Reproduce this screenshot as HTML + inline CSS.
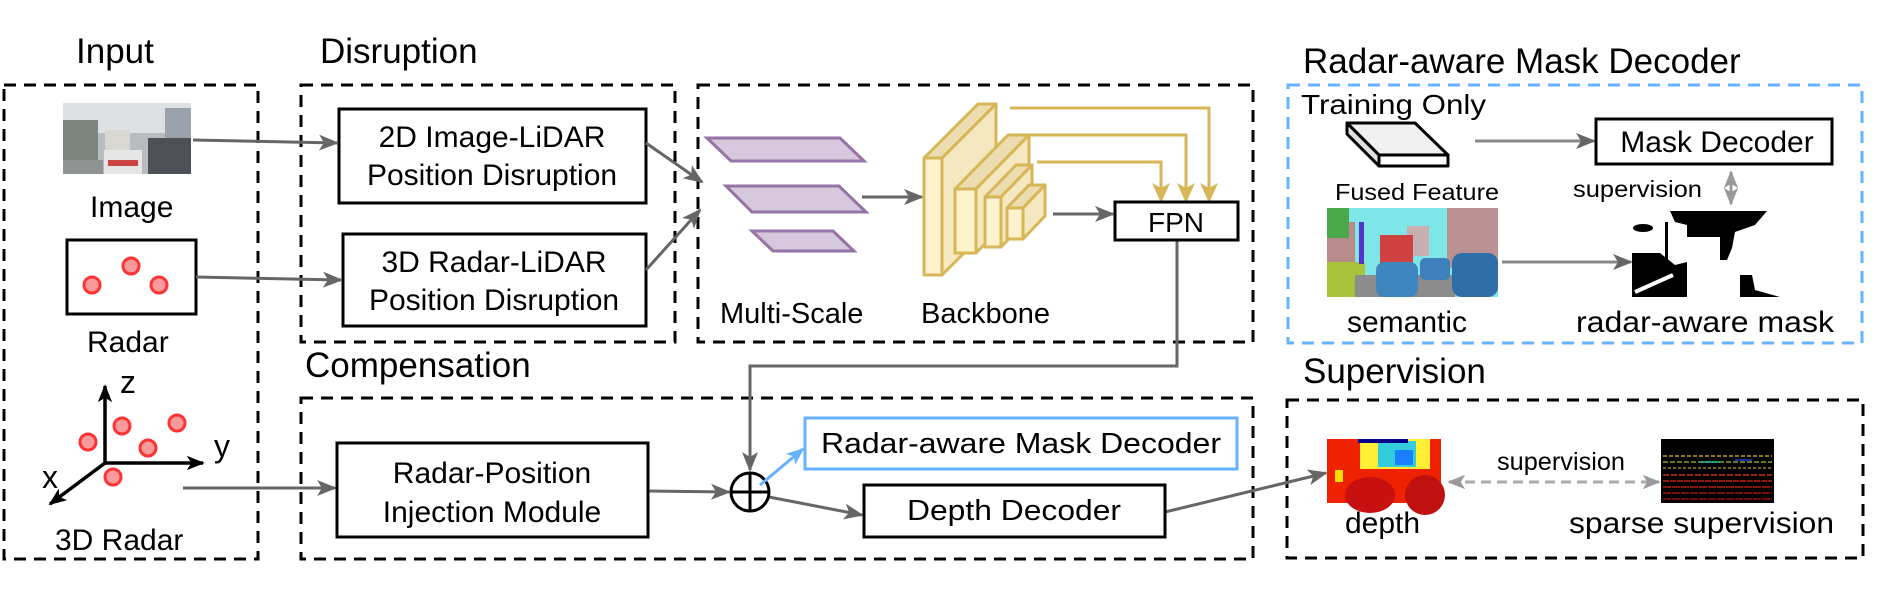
<!DOCTYPE html>
<html><head><meta charset="utf-8"><style>
html,body{margin:0;padding:0;background:#fff}
svg{display:block}
text{font-family:"Liberation Sans",Arial,sans-serif;fill:#000}
</style></head><body>
<svg width="1883" height="602" viewBox="0 0 1883 602" xmlns="http://www.w3.org/2000/svg">
<defs>
<marker id="agr" viewBox="0 0 20 20" refX="18" refY="10" markerWidth="20" markerHeight="20" orient="auto-start-reverse" markerUnits="userSpaceOnUse"><path d="M0,2 L20,10 L0,18 L5,10 Z" fill="#666"/></marker>
<marker id="agl" viewBox="0 0 20 20" refX="18" refY="10" markerWidth="18" markerHeight="18" orient="auto-start-reverse" markerUnits="userSpaceOnUse"><path d="M0,2 L20,10 L0,18 L5,10 Z" fill="#999"/></marker>
<marker id="ab" viewBox="0 0 20 20" refX="18" refY="10" markerWidth="18" markerHeight="18" orient="auto" markerUnits="userSpaceOnUse"><path d="M0,2 L20,10 L0,18 L5,10 Z" fill="#66b2ff"/></marker>
<marker id="ay" viewBox="0 0 20 20" refX="18" refY="10" markerWidth="20" markerHeight="20" orient="auto" markerUnits="userSpaceOnUse"><path d="M0,1 L20,10 L0,19 L5,10 Z" fill="#d6b656"/></marker>
<marker id="ak" viewBox="0 0 20 20" refX="18" refY="10" markerWidth="18" markerHeight="18" orient="auto" markerUnits="userSpaceOnUse"><path d="M0,2 L20,10 L0,18 L5,10 Z" fill="#000"/></marker>
</defs>

<text x="76" y="63" font-size="35">Input</text>
<text x="320" y="63" font-size="35">Disruption</text>
<text x="305" y="377" font-size="35">Compensation</text>
<text x="1303" y="73" font-size="35">Radar-aware Mask Decoder</text>
<text x="1303" y="383" font-size="35">Supervision</text>

<g fill="none" stroke="#000" stroke-width="3" stroke-dasharray="12,8">
<rect x="4" y="85" width="254" height="474"/>
<rect x="301" y="85" width="374" height="257"/>
<rect x="698" y="85" width="555" height="257"/>
<rect x="301" y="398" width="952" height="161"/>
<rect x="1287" y="400" width="576" height="158"/>
</g>
<rect x="1288" y="85" width="574" height="258" fill="none" stroke="#66b2ff" stroke-width="3" stroke-dasharray="12,8"/>

<g>
<rect x="63" y="103" width="128" height="71" fill="#b9bcbf"/>
<rect x="63" y="103" width="128" height="30" fill="#dde1e4"/>
<rect x="63" y="120" width="35" height="54" fill="#7d8580"/>
<rect x="165" y="108" width="26" height="40" fill="#9aa3ab"/>
<rect x="105" y="130" width="25" height="25" fill="#d9d7d2"/>
<rect x="148" y="138" width="43" height="36" fill="#4d5157"/>
<rect x="104" y="150" width="38" height="24" fill="#e6e6e6"/>
<rect x="108" y="160" width="30" height="6" fill="#c44"/>
<rect x="63" y="160" width="40" height="14" fill="#8f9492"/>
</g>
<text x="90" y="217" font-size="30">Image</text>

<rect x="67" y="240" width="129" height="74" fill="#fff" stroke="#000" stroke-width="3"/>
<g fill="#f89a9a" stroke="#ff3333" stroke-width="3">
<circle cx="92" cy="285" r="8"/><circle cx="131" cy="266" r="8"/><circle cx="159" cy="285" r="8"/>
</g>
<text x="87" y="352" font-size="30">Radar</text>

<g stroke="#000" stroke-width="3.5" fill="none">
<line x1="105" y1="464" x2="105" y2="386" marker-end="url(#ak)"/>
<line x1="104" y1="463" x2="203" y2="463" marker-end="url(#ak)"/>
<line x1="105" y1="463" x2="50" y2="504" marker-end="url(#ak)"/>
</g>
<text x="120" y="393" font-size="32">z</text>
<text x="214" y="457" font-size="32">y</text>
<text x="42" y="488" font-size="32">x</text>
<g fill="#f89a9a" stroke="#ff3333" stroke-width="3">
<circle cx="88" cy="442" r="8"/><circle cx="122" cy="426" r="8"/><circle cx="177" cy="423" r="8"/><circle cx="148" cy="448" r="8"/><circle cx="113" cy="477" r="8"/>
</g>
<text x="55" y="550" font-size="30">3D Radar</text>

<rect x="339" y="109" width="307" height="94" fill="#fff" stroke="#000" stroke-width="3"/>
<text x="492" y="147" font-size="30" text-anchor="middle">2D Image-LiDAR</text>
<text x="492" y="185" font-size="30" text-anchor="middle">Position Disruption</text>
<rect x="343" y="234" width="303" height="92" fill="#fff" stroke="#000" stroke-width="3"/>
<text x="494" y="272" font-size="30" text-anchor="middle">3D Radar-LiDAR</text>
<text x="494" y="310" font-size="30" text-anchor="middle">Position Disruption</text>

<g stroke="#666" stroke-width="3" fill="none">
<line x1="193" y1="140" x2="337" y2="143" marker-end="url(#agr)"/>
<line x1="196" y1="277" x2="341" y2="280" marker-end="url(#agr)"/>
<line x1="646" y1="143" x2="702" y2="182" marker-end="url(#agr)"/>
<line x1="646" y1="270" x2="700" y2="210" marker-end="url(#agr)"/>
<line x1="862" y1="197" x2="922" y2="197" marker-end="url(#agr)"/>
<line x1="1053" y1="214" x2="1113" y2="214" marker-end="url(#agr)"/>
<line x1="183" y1="488" x2="335" y2="488" marker-end="url(#agr)"/>
<polyline points="1177,240 1177,366 750,366 750,470" marker-end="url(#agr)"/>
<line x1="648" y1="491" x2="729" y2="492" marker-end="url(#agr)"/>
<line x1="769" y1="497" x2="862" y2="515" marker-end="url(#agr)"/>
<line x1="1165" y1="512" x2="1326" y2="473" marker-end="url(#agr)"/>
<line x1="1475" y1="141" x2="1594" y2="141" stroke="#888" marker-end="url(#agr)"/>
<line x1="1502" y1="262" x2="1631" y2="262" stroke="#888" marker-end="url(#agr)"/>
</g>

<g fill="#d5c8dc" stroke="#9673a6" stroke-width="3">
<polygon points="707,138 840,138 864,161 731,161"/>
<polygon points="726,186 839,186 866,212 752,212"/>
<polygon points="752,231 833,231 854,251 773,251"/>
</g>
<text x="720" y="323" font-size="29">Multi-Scale</text>

<g stroke="#d6b656" stroke-width="3" stroke-linejoin="round">
<polygon points="924,158 978,104 996,104 942,158" fill="#ecdcb0"/>
<polygon points="942,158 996,104 996,221 942,275" fill="#f5e8c0"/>
<rect x="924" y="158" width="18" height="117" fill="#fff2cc"/>
<polygon points="955,189 1008,135 1029,135 976,189" fill="#ecdcb0"/>
<polygon points="976,189 1029,135 1029,199 976,253" fill="#f5e8c0"/>
<rect x="955" y="189" width="21" height="64" fill="#fff2cc"/>
<polygon points="985,197 1016,165 1032,165 1001,197" fill="#ecdcb0"/>
<polygon points="1001,197 1032,165 1032,215 1001,247" fill="#f5e8c0"/>
<rect x="985" y="197" width="16" height="50" fill="#fff2cc"/>
<polygon points="1007,208 1029,185 1045,185 1023,208" fill="#ecdcb0"/>
<polygon points="1023,208 1045,185 1045,216 1023,239" fill="#f5e8c0"/>
<rect x="1007" y="208" width="16" height="31" fill="#fff2cc"/>
</g>
<text x="921" y="323" font-size="29">Backbone</text>
<g stroke="#d6b656" stroke-width="3" fill="none">
<polyline points="1010,108 1209,108 1209,201" marker-end="url(#ay)"/>
<polyline points="1030,135 1186,135 1186,201" marker-end="url(#ay)"/>
<polyline points="1037,162 1161,162 1161,201" marker-end="url(#ay)"/>
</g>
<rect x="1115" y="202" width="123" height="38" fill="#fff" stroke="#000" stroke-width="3"/>
<text x="1176" y="232" font-size="28" text-anchor="middle">FPN</text>

<rect x="337" y="443" width="311" height="94" fill="#fff" stroke="#000" stroke-width="3"/>
<text x="492" y="483" font-size="30" text-anchor="middle">Radar-Position</text>
<text x="492" y="522" font-size="30" text-anchor="middle">Injection Module</text>
<circle cx="750" cy="492" r="19" fill="#fff" stroke="#000" stroke-width="3"/>
<line x1="731" y1="492" x2="769" y2="492" stroke="#000" stroke-width="3"/>
<line x1="750" y1="473" x2="750" y2="511" stroke="#000" stroke-width="3"/>
<line x1="760" y1="485" x2="803" y2="449" stroke="#66b2ff" stroke-width="3" marker-end="url(#ab)"/>
<rect x="805" y="418" width="432" height="51" fill="#fff" stroke="#66b2ff" stroke-width="3"/>
<text x="1021" y="453" font-size="29" text-anchor="middle" textLength="400" lengthAdjust="spacingAndGlyphs">Radar-aware Mask Decoder</text>
<rect x="864" y="485" width="301" height="52" fill="#fff" stroke="#000" stroke-width="3"/>
<text x="1014" y="520" font-size="29" text-anchor="middle" textLength="214" lengthAdjust="spacingAndGlyphs">Depth Decoder</text>

<text x="1301" y="114" font-size="28" textLength="185" lengthAdjust="spacingAndGlyphs">Training Only</text>
<g stroke="#000" stroke-width="3" stroke-linejoin="round">
<polygon points="1347,123 1415,123 1448,155 1379,155" fill="#f0f0f0"/>
<polygon points="1347,123 1379,155 1379,166 1347,134" fill="#e0e0e0"/>
<rect x="1379" y="155" width="69" height="11" fill="#fff"/>
</g>
<text x="1335" y="200" font-size="23" textLength="164" lengthAdjust="spacingAndGlyphs">Fused Feature</text>
<rect x="1596" y="119" width="236" height="45" fill="#fff" stroke="#000" stroke-width="3"/>
<text x="1717" y="152" font-size="30" text-anchor="middle">Mask Decoder</text>
<text x="1573" y="197" font-size="23" textLength="129" lengthAdjust="spacingAndGlyphs">supervision</text>
<line x1="1731" y1="172" x2="1731" y2="204" stroke="#999" stroke-width="3" marker-start="url(#agl)" marker-end="url(#agl)"/>
<g>
<rect x="1327" y="208" width="171" height="89" fill="#7ee6e6"/>
<rect x="1327" y="222" width="28" height="60" fill="#b98a8a"/>
<rect x="1447" y="208" width="51" height="60" fill="#b99191"/>
<rect x="1327" y="208" width="22" height="30" fill="#4aa84a"/>
<rect x="1407" y="226" width="22" height="30" fill="#c8b0b0"/>
<rect x="1327" y="262" width="38" height="35" fill="#a9c23c"/>
<rect x="1355" y="275" width="100" height="22" fill="#8c8c8c"/>
<rect x="1380" y="235" width="33" height="45" fill="#d04040"/>
<rect x="1359" y="222" width="5" height="42" fill="#5533cc"/>
<rect x="1376" y="262" width="42" height="35" rx="8" fill="#3e86c0"/>
<rect x="1452" y="253" width="46" height="44" rx="10" fill="#2f6ea8"/>
<rect x="1420" y="258" width="30" height="22" rx="5" fill="#3e80bb"/>
</g>
<text x="1347" y="332" font-size="30">semantic</text>
<g fill="#000">
<polygon points="1670,211 1767,211 1755,225 1735,232 1732,248 1727,260 1720,260 1720,237 1687,237 1687,225 1675,222"/>
<polygon points="1632,253 1660,253 1675,265 1687,262 1687,297 1632,297"/>
<polygon points="1740,275 1752,275 1755,290 1780,297 1740,297"/>
<ellipse cx="1643" cy="228" rx="10" ry="4"/>
<rect x="1665" y="222" width="3" height="45"/>
</g>
<line x1="1635" y1="292" x2="1673" y2="275" stroke="#fff" stroke-width="4"/>
<text x="1576" y="332" font-size="30" textLength="258" lengthAdjust="spacingAndGlyphs">radar-aware mask</text>

<g>
<rect x="1327" y="439" width="114" height="64" fill="#ee2200"/>
<rect x="1360" y="439" width="70" height="30" fill="#ffee33"/>
<rect x="1378" y="441" width="38" height="26" fill="#33ccdd"/>
<rect x="1395" y="450" width="18" height="15" fill="#1a7fff"/>
<rect x="1358" y="439" width="50" height="4" fill="#000088"/>
<ellipse cx="1370" cy="495" rx="25" ry="18" fill="#c81010"/>
<ellipse cx="1425" cy="495" rx="20" ry="20" fill="#c01010"/>
<rect x="1335" y="470" width="8" height="12" fill="#ffdd00"/>
</g>
<text x="1497" y="470" font-size="25" textLength="128" lengthAdjust="spacingAndGlyphs">supervision</text>
<line x1="1449" y1="482" x2="1659" y2="482" stroke="#aaa" stroke-width="3" stroke-dasharray="10,6" marker-start="url(#agl)" marker-end="url(#agl)"/>
<g>
<rect x="1661" y="439" width="113" height="64" fill="#000"/>
<g stroke-width="1.5">
<line x1="1663" y1="456" x2="1772" y2="456" stroke="#b8a020" stroke-dasharray="4,2"/>
<line x1="1663" y1="462" x2="1772" y2="462" stroke="#8aa030" stroke-dasharray="5,2"/>
<line x1="1663" y1="468" x2="1772" y2="468" stroke="#a08020" stroke-dasharray="3,2"/>
<line x1="1663" y1="475" x2="1772" y2="475" stroke="#c03010" stroke-dasharray="6,2"/>
<line x1="1663" y1="481" x2="1772" y2="481" stroke="#c02010" stroke-dasharray="6,1"/>
<line x1="1663" y1="487" x2="1772" y2="487" stroke="#b01a10" stroke-dasharray="8,1"/>
<line x1="1663" y1="493" x2="1772" y2="493" stroke="#a01510" stroke-dasharray="8,1"/>
<line x1="1663" y1="499" x2="1772" y2="499" stroke="#901010" stroke-dasharray="8,1"/>
<line x1="1700" y1="462" x2="1720" y2="462" stroke="#20c0a0"/>
<line x1="1735" y1="460" x2="1752" y2="460" stroke="#2040c0"/>
</g>
</g>
<text x="1345" y="533" font-size="30">depth</text>
<text x="1569" y="533" font-size="30" textLength="265" lengthAdjust="spacingAndGlyphs">sparse supervision</text>
</svg>
</body></html>
